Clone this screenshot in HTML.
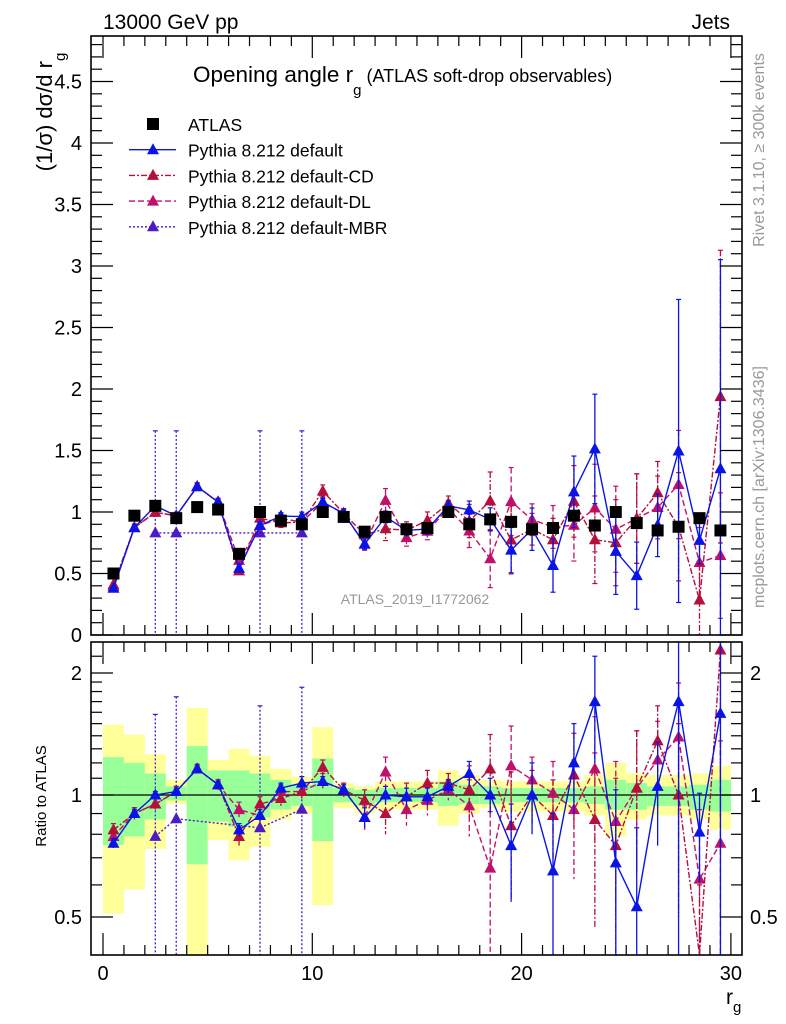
<!DOCTYPE html>
<html><head><meta charset="utf-8"><style>
body{margin:0;background:#fff}
svg{display:block;font-family:"Liberation Sans",Arial,sans-serif}
</style></head><body>
<svg id="c" width="786" height="1024" viewBox="0 0 786 1024" xmlns="http://www.w3.org/2000/svg">
<text x="103" y="29" font-size="21">13000 GeV pp</text>
<text x="730" y="29" font-size="21" text-anchor="end">Jets</text>
<text x="193" y="82" font-size="22.5">Opening angle r<tspan font-size="15" dy="13">g</tspan><tspan font-size="18" dy="-13"> (ATLAS soft-drop observables)</tspan></text>
<text transform="translate(52,112) rotate(-90)" font-size="22" text-anchor="middle">(1/σ) dσ/d r<tspan font-size="15" dy="13">g</tspan></text>
<text transform="translate(764,150) rotate(-90)" font-size="16" fill="#999" text-anchor="middle">Rivet 3.1.10, ≥ 300k events</text>
<text transform="translate(764,487) rotate(-90)" font-size="16" fill="#999" text-anchor="middle">mcplots.cern.ch [arXiv:1306.3436]</text>
<text x="415" y="604" font-size="14" fill="#999" text-anchor="middle">ATLAS_2019_I1772062</text>
<text transform="translate(46,796) rotate(-90)" font-size="15" text-anchor="middle">Ratio to ATLAS</text>
<text x="726" y="1004" font-size="21">r<tspan font-size="15" dy="8">g</tspan></text>
<g id="bands"></g><g id="marks"></g><g id="axes"></g><g id="legend"></g>
</svg>
<script>
const xCenters=[0.5,1.5,2.5,3.5,4.5,5.5,6.5,7.5,8.5,9.5,10.5,11.5,12.5,13.5,14.5,15.5,16.5,17.5,18.5,19.5,20.5,21.5,22.5,23.5,24.5,25.5,26.5,27.5,28.5,29.5];
const atlas=[0.5,0.97,1.05,0.95,1.04,1.02,0.66,1.0,0.93,0.9,1.0,0.96,0.84,0.96,0.86,0.87,1.0,0.9,0.94,0.92,0.86,0.87,0.97,0.89,1.0,0.91,0.85,0.88,0.95,0.85];
const ratioDefault=[0.76,0.9,1.0,1.02,1.16,1.06,0.82,0.89,1.04,1.07,1.08,1.03,0.88,1.0,0.99,0.99,1.05,1.13,1.0,0.75,1.0,0.65,1.2,1.7,0.68,0.53,1.05,1.7,0.81,1.59];
const errDefault=[0.02,0.02,0.02,0.02,0.02,0.02,0.03,0.03,0.03,0.04,0.03,0.03,0.05,0.05,0.05,0.05,0.04,0.08,0.1,0.2,0.2,0.25,0.3,0.5,0.35,0.3,0.3,1.4,0.2,2.0];
const ratioCD=[0.82,0.9,0.95,1.02,1.16,1.06,0.79,0.95,0.98,1.02,1.17,1.03,0.97,0.9,0.99,1.07,1.07,1.03,1.16,0.84,1.0,0.89,1.12,0.87,0.75,1.04,1.36,1.0,0.3,2.28];
const errCD=[0.03,0.03,0.03,0.03,0.03,0.03,0.04,0.04,0.04,0.04,0.05,0.04,0.06,0.1,0.08,0.08,0.06,0.15,0.25,0.3,0.15,0.2,0.3,0.4,0.35,0.4,0.3,0.5,0.3,1.4];
const ratioDL=[0.79,0.9,0.95,1.02,1.16,1.06,0.92,0.89,1.02,1.02,1.08,1.03,0.88,1.14,0.92,0.97,1.03,0.94,0.66,1.18,1.09,1.01,0.92,1.16,0.86,1.04,1.22,1.39,0.62,0.76];
const errDL=[0.03,0.03,0.03,0.03,0.03,0.03,0.04,0.04,0.04,0.04,0.05,0.04,0.06,0.1,0.08,0.08,0.06,0.15,0.25,0.3,0.15,0.2,0.3,0.4,0.35,0.4,0.3,0.5,0.3,0.6];
const mbrX=[2.5,3.5,7.5,9.5];
const mbrVal=[0.83,0.83,0.83,0.83];
const mbrErr=[0.83,0.83,0.83,0.83];
const yellowHi=[1.49,1.41,1.26,1.09,1.64,1.22,1.30,1.25,1.16,1.11,1.47,1.07,1.05,1.08,1.08,1.08,1.15,1.12,1.09,1.08,1.08,1.08,1.08,1.12,1.20,1.13,1.12,1.12,1.13,1.18];
const yellowLo=[0.51,0.585,0.736,0.95,0.3,0.774,0.69,0.745,0.87,0.90,0.535,0.93,0.90,0.92,0.92,0.92,0.84,0.90,0.93,0.91,0.91,0.91,0.91,0.89,0.79,0.87,0.89,0.89,0.87,0.82];
const greenHi=[1.24,1.20,1.13,1.05,1.32,1.15,1.15,1.13,1.09,1.06,1.23,1.04,1.03,1.04,1.04,1.04,1.08,1.06,1.05,1.04,1.04,1.04,1.04,1.05,1.09,1.07,1.05,1.05,1.06,1.09];
const greenLo=[0.753,0.79,0.87,0.97,0.675,0.86,0.835,0.88,0.92,0.94,0.77,0.96,0.94,0.96,0.96,0.96,0.94,0.95,0.95,0.96,0.96,0.96,0.96,0.95,0.92,0.92,0.94,0.94,0.92,0.91];
const mainTicks=[0,0.5,1,1.5,2,2.5,3,3.5,4,4.5];
const mainTickLabels=["0","0.5","1","1.5","2","2.5","3","3.5","4","4.5"];
const xTicks=[0,10,20,30];
const xTickLabels=["0","10","20","30"];
const ratioTicks=[0.5,1,2];
const ratioTickLabels=["0.5","1","2"];

const NS="http://www.w3.org/2000/svg";
const L=91,R=742,MT=36,MB=635,RT=642,RB=955;
const sx=v=>103+v*20.93;
const sy=v=>MB-v*123;
const ry=r=>795-122*Math.log2(r);
const clampR=y=>Math.max(RT,Math.min(RB,y));
const clampM=y=>Math.max(MT,Math.min(MB,y));
function el(tag,attrs,parent){const e=document.createElementNS(NS,tag);for(const k in attrs)e.setAttribute(k,attrs[k]);parent.appendChild(e);return e;}
const bands=document.getElementById('bands'),marks=document.getElementById('marks'),axes=document.getElementById('axes'),legend=document.getElementById('legend');

xCenters.forEach((x,i)=>{
  let r=el('rect',{x:sx(x-0.5),width:20.93,y:clampR(ry(yellowHi[i])),height:clampR(ry(yellowLo[i]))-clampR(ry(yellowHi[i])),fill:'#ffff99'},bands);
  
  
  let g=el('rect',{x:sx(x-0.5),width:20.93,y:clampR(ry(greenHi[i])),height:clampR(ry(greenLo[i]))-clampR(ry(greenHi[i])),fill:'#99ff99'},bands);
  
  
});
let one=el('line',{x1:L,x2:R,y1:ry(1),y2:ry(1),stroke:'#000','stroke-width':1.3},bands);



function tri(x,y,col,parent,name){
  const t=el('polygon',{points:`${x},${y-6.5} ${x-6},${y+4.5} ${x+6},${y+4.5}`,fill:col},parent);
  
  
}
function series(xs,ratio,err,col,dash,name){
  const gm=el('g',{},marks);
  
  
  const vals=ratio.map((r,i)=>r*atlas[i]);
  const mp=xs.map((x,i)=>`${sx(x)},${clampM(sy(vals[i]))}`).join(' ');
  el('polyline',{points:mp,fill:'none',stroke:col,'stroke-width':1.4,'stroke-dasharray':dash},gm);
  const rp=xs.map((x,i)=>`${sx(x)},${clampR(ry(ratio[i]))}`).join(' ');
  el('polyline',{points:rp,fill:'none',stroke:col,'stroke-width':1.4,'stroke-dasharray':dash},gm);
  xs.forEach((x,i)=>{
    const a=atlas[i];
    const v=vals[i],e=err[i]*a;
    const y1=clampM(sy(v+e)),y2=clampM(sy(Math.max(v-e,0)));
    el('line',{x1:sx(x),x2:sx(x),y1:y1,y2:y2,stroke:col,'stroke-width':1.3,'stroke-dasharray':dash},gm);
    el('line',{x1:sx(x)-2.5,x2:sx(x)+2.5,y1:y1,y2:y1,stroke:col,'stroke-width':1.2},gm);
    el('line',{x1:sx(x)-2.5,x2:sx(x)+2.5,y1:y2,y2:y2,stroke:col,'stroke-width':1.2},gm);
    const rr=ratio[i],re=err[i];
    const q1=clampR(ry(rr+re)),q2=rr-re>0.05?clampR(ry(rr-re)):RB;
    el('line',{x1:sx(x),x2:sx(x),y1:q1,y2:q2,stroke:col,'stroke-width':1.3,'stroke-dasharray':dash},gm);
    el('line',{x1:sx(x)-2.5,x2:sx(x)+2.5,y1:q1,y2:q1,stroke:col,'stroke-width':1.2},gm);
    const ym=sy(v); if(ym>=MT&&ym<=MB) tri(sx(x),ym,col,gm,name+'-point');
    const yr=ry(rr); if(yr>=RT&&yr<=RB) tri(sx(x),yr,col,gm,name+'-ratio-point');
  });
}
const mbrRatio=mbrX.map((x,i)=>mbrVal[i]/atlas[xCenters.indexOf(x)]);
const mbrRErr=mbrX.map((x,i)=>mbrErr[i]/atlas[xCenters.indexOf(x)]);
(function(){
  const col='#4b1bc8',dash='2,2';
  const gm=el('g',{},marks);
  
  
  el('polyline',{points:mbrX.map((x,i)=>`${sx(x)},${sy(mbrVal[i])}`).join(' '),fill:'none',stroke:col,'stroke-width':1.4,'stroke-dasharray':dash},gm);
  el('polyline',{points:mbrX.map((x,i)=>`${sx(x)},${ry(mbrRatio[i])}`).join(' '),fill:'none',stroke:col,'stroke-width':1.4,'stroke-dasharray':dash},gm);
  mbrX.forEach((x,i)=>{
    const y1=sy(mbrVal[i]+mbrErr[i]);
    el('line',{x1:sx(x),x2:sx(x),y1:y1,y2:MB,stroke:col,'stroke-width':1.3,'stroke-dasharray':dash},gm);
    el('line',{x1:sx(x)-2.5,x2:sx(x)+2.5,y1:y1,y2:y1,stroke:col,'stroke-width':1.2},gm);
    const q1=ry(mbrRatio[i]+mbrRErr[i]);
    el('line',{x1:sx(x),x2:sx(x),y1:q1,y2:RB,stroke:col,'stroke-width':1.3,'stroke-dasharray':dash},gm);
    el('line',{x1:sx(x)-2.5,x2:sx(x)+2.5,y1:q1,y2:q1,stroke:col,'stroke-width':1.2},gm);
    tri(sx(x),sy(mbrVal[i]),col,gm,'mbr-point');
    tri(sx(x),ry(mbrRatio[i]),col,gm,'mbr-ratio-point');
  });
})();
series(xCenters,ratioDL,errDL,'#c0106b','6,3','default-dl');
series(xCenters,ratioCD,errCD,'#b5103c','6,2,2,2','default-cd');
series(xCenters,ratioDefault,errDefault,'#0a14e6','','default');
xCenters.forEach((x,i)=>{
  const s=el('rect',{x:sx(x)-6,y:sy(atlas[i])-6,width:12,height:12,fill:'#000'},marks);
  
  
});

function frame(t,b,name){const f=el('rect',{x:L,y:t,width:R-L,height:b-t,fill:'none',stroke:'#000','stroke-width':1.6},axes);}
frame(MT,MB,'main-frame');frame(RT,RB,'ratio-frame');
for(let v=0;v<=4.85;v+=0.1){const y=sy(v);const major=Math.abs(v*2-Math.round(v*2))<1e-6;const len=major?22:11;
  el('line',{x1:L,x2:L+len,y1:y,y2:y,stroke:'#000','stroke-width':1.2},axes);
  el('line',{x1:R-len,x2:R,y1:y,y2:y,stroke:'#000','stroke-width':1.2},axes);}
mainTicks.forEach((v,i)=>{const t=el('text',{x:82,y:sy(v)+7,'font-size':20,'text-anchor':'end'},axes);t.textContent=mainTickLabels[i];
  
  });
for(let v=0;v<=30;v++){const x=sx(v);const major=v%10==0;const len=major?22:10;
  el('line',{x1:x,x2:x,y1:MB,y2:MB-len,stroke:'#000','stroke-width':1.2},axes);
  el('line',{x1:x,x2:x,y1:MT,y2:MT+len,stroke:'#000','stroke-width':1.2},axes);
  el('line',{x1:x,x2:x,y1:RB,y2:RB-len,stroke:'#000','stroke-width':1.2},axes);
  el('line',{x1:x,x2:x,y1:RT,y2:RT+len,stroke:'#000','stroke-width':1.2},axes);}
xTicks.forEach((v,i)=>{const t=el('text',{x:sx(v),y:980,'font-size':20,'text-anchor':'middle'},axes);t.textContent=xTickLabels[i];
  
  });
[0.4,0.5,0.6,0.7,0.8,0.9,1,1.1,1.2,1.3,1.4,1.5,1.6,1.7,1.8,1.9,2,2.2].forEach(r=>{const y=ry(r);if(y<RT||y>RB)return;const major=[0.5,1,2].includes(r);const len=major?22:11;
  el('line',{x1:L,x2:L+len,y1:y,y2:y,stroke:'#000','stroke-width':1.2},axes);
  el('line',{x1:R-len,x2:R,y1:y,y2:y,stroke:'#000','stroke-width':1.2},axes);});
ratioTicks.forEach((v,i)=>{
  const t=el('text',{x:82,y:ry(v)+7,'font-size':20,'text-anchor':'end'},axes);t.textContent=ratioTickLabels[i];
  
  
  const u=el('text',{x:750,y:ry(v)+7,'font-size':20},axes);u.textContent=ratioTickLabels[i];
  
  });

const leg=[["ATLAS","#000","sq",""],["Pythia 8.212 default","#0a14e6","tri",""],["Pythia 8.212 default-CD","#b5103c","tri","6,2,2,2"],["Pythia 8.212 default-DL","#c0106b","tri","6,3"],["Pythia 8.212 default-MBR","#4b1bc8","tri","2,2"]];
leg.forEach((d,i)=>{const y=124+i*25.7;const g=el('g',{},legend);
  
  
  if(d[2]=="sq"){el('rect',{x:147,y:y-6,width:12,height:12,fill:'#000'},g);}
  else{el('line',{x1:129,x2:176,y1:y,y2:y,stroke:d[1],'stroke-width':1.4,'stroke-dasharray':d[3]},g);tri(153,y,d[1],g,'legend-marker');}
  const t=el('text',{x:188,y:y+7,'font-size':17.5},g);t.textContent=d[0];});
</script>
</body></html>
